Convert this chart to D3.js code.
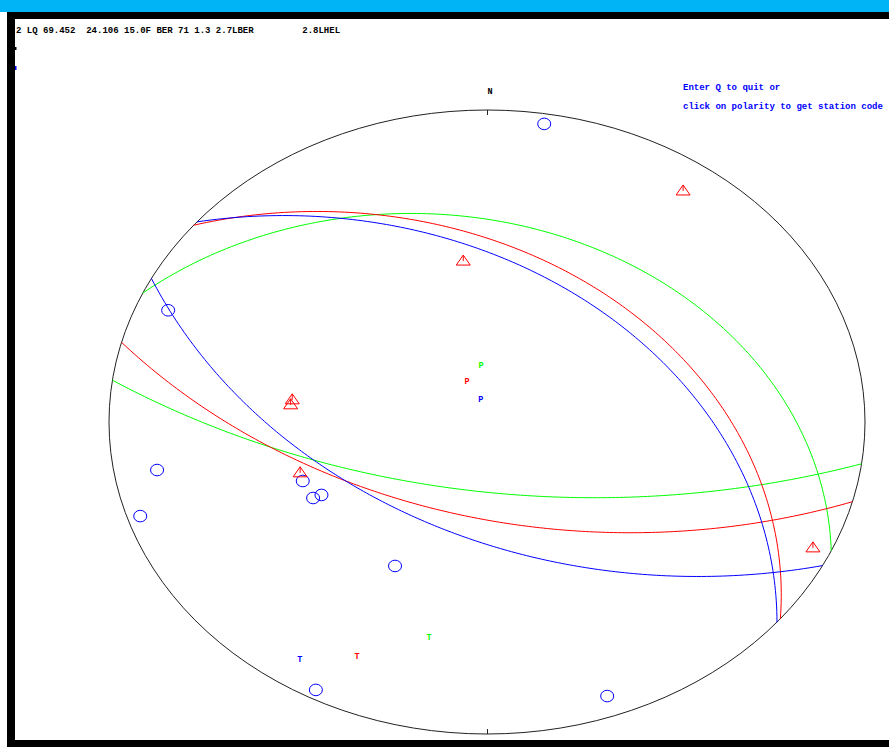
<!DOCTYPE html>
<html>
<head>
<meta charset="utf-8">
<script src="https://cdn.jsdelivr.net/npm/d3@7"></script>
<style>
  html, body { margin: 0; padding: 0; background: #fff; }
  svg { display: block; }
  .mono { font-family: "Liberation Mono", "DejaVu Sans Mono", monospace; font-weight: bold; }
</style>
</head>
<body>
<svg id="chart" width="889" height="747"></svg>
<script>
// Event header and prompt lines
const headerText = "2 LQ 69.452  24.106 15.0F BER 71 1.3 2.7LBER         2.8LHEL";
const promptLines = ["Enter Q to quit or", "click on polarity to get station code"];

// Three fault plane solutions (blue, red, green): two nodal planes each
const solutionColors = ["#0000ff", "#ff0000", "#00ff00"];
const planeAStrike = [117.4, 104.8, 97.7];
const planeADip    = [50.5, 56.0, 64.8];
const planeBStrike = [309.9, 309.1, 294.4];
const planeBDip    = [40.0, 35.5, 26.0];

// Pressure and tension axes (trend, plunge in degrees)
const pTrend  = [347.6, 338.0, 355.0];
const pPlunge = [81.4, 74.0, 69.3];
const tTrend  = [213.1, 204.6, 192.5];
const tPlunge = [5.6, 10.9, 19.5];

// Compressional first motions: station azimuth and angle of incidence
const compAzimuth   = [9.0, 293.0, 260.0, 251.8, 248.8, 242.1, 241.9, 207.8, 207.8, 160.1];
const compIncidence = [88.1, 85.0, 83.1, 88.0, 55.2, 55.0, 52.8, 55.1, 88.3, 86.1];

// Dilatational first motions
const dilAzimuth   = [34.9, 353.1, 278.2, 276.4, 252.1, 114.9];
const dilIncidence = [84.4, 55.2, 55.0, 55.2, 54.9, 87.1];

const svg = d3.select("#chart");
const W = 889, H = 747;
const rad = Math.PI / 180;

// Window frame
svg.append("rect").attr("x", 0).attr("y", 0).attr("width", W).attr("height", H).attr("fill", "#fff");
svg.append("rect").attr("x", 0).attr("y", 0).attr("width", W).attr("height", 12).attr("fill", "#00b4f5");
svg.append("rect").attr("x", 7).attr("y", 12).attr("width", W - 7).attr("height", 7).attr("fill", "#000");
svg.append("rect").attr("x", 7).attr("y", 12).attr("width", 8).attr("height", H - 12).attr("fill", "#000");
svg.append("rect").attr("x", 7).attr("y", 740).attr("width", W - 7).attr("height", 7).attr("fill", "#000");

// Stereonet scales (unit circle stretched to the plot window)
const xS = d3.scaleLinear().domain([-1, 1]).range([109, 865]);
const yS = d3.scaleLinear().domain([-1, 1]).range([734, 110]);

// Lower hemisphere stereographic projection of a line (trend, plunge)
function project(trend, plunge) {
  const r = Math.tan((90 - plunge) / 2 * rad);
  return [xS(r * Math.sin(trend * rad)), yS(r * Math.cos(trend * rad))];
}

// Points along the great circle of a plane (right-hand rule strike, dip)
function greatCircle(strike, dip) {
  const s = strike * rad, dd = (strike + 90) * rad, d = dip * rad;
  const sv = [Math.sin(s), Math.cos(s), 0];
  const dv = [Math.cos(d) * Math.sin(dd), Math.cos(d) * Math.cos(dd), Math.sin(d)];
  return d3.range(0, 180.5, 1).map(t => {
    const c = Math.cos(t * rad), n = Math.sin(t * rad);
    const e = c * sv[0] + n * dv[0], no = c * sv[1] + n * dv[1], dn = Math.max(0, c * sv[2] + n * dv[2]);
    const trend = Math.atan2(e, no) / rad;
    const plunge = Math.asin(Math.min(1, dn)) / rad;
    return project(trend, plunge);
  });
}

// Primitive circle with north and south ticks
const cx = xS(0), cy = yS(0);
svg.append("ellipse")
  .attr("cx", cx).attr("cy", cy)
  .attr("rx", xS(1) - cx).attr("ry", cy - yS(1))
  .attr("fill", "none").attr("stroke", "#222").attr("stroke-width", 1);
svg.append("line").attr("x1", cx + 0.5).attr("x2", cx + 0.5).attr("y1", yS(1)).attr("y2", yS(1) + 5)
  .attr("stroke", "#222");
svg.append("line").attr("x1", cx + 0.5).attr("x2", cx + 0.5).attr("y1", yS(-1) - 5).attr("y2", yS(-1))
  .attr("stroke", "#222");
svg.append("text").attr("class", "mono").attr("x", cx + 3).attr("y", 94)
  .attr("text-anchor", "middle").attr("font-size", 8.5).attr("fill", "#000").text("N");

// Nodal planes
const line = d3.line().curve(d3.curveLinear);
const gPlanes = svg.append("g").attr("fill", "none").attr("stroke-width", 1);
for (let k = solutionColors.length - 1; k >= 0; k--) {
  gPlanes.append("path").attr("d", line(greatCircle(planeAStrike[k], planeADip[k]))).attr("stroke", solutionColors[k]);
  gPlanes.append("path").attr("d", line(greatCircle(planeBStrike[k], planeBDip[k]))).attr("stroke", solutionColors[k]);
}

// Compressions: open circles
const gComp = svg.append("g").attr("fill", "none").attr("stroke", "#0000ff").attr("stroke-width", 1);
compAzimuth.forEach((az, i) => {
  const [x, y] = project(az, 90 - compIncidence[i]);
  gComp.append("ellipse").attr("cx", x).attr("cy", y).attr("rx", 6.5).attr("ry", 5.8);
});

// Dilatations: open triangles
const gDil = svg.append("g").attr("fill", "none").attr("stroke", "#ff0000").attr("stroke-width", 1);
dilAzimuth.forEach((az, i) => {
  const [x, y] = project(az, 90 - dilIncidence[i]);
  gDil.append("path").attr("d", `M${x - 7},${y + 5}L${x},${y - 5}L${x + 7},${y + 5}Z`);
  gDil.append("line").attr("x1", x).attr("x2", x).attr("y1", y - 5).attr("y2", y + 1);
});

// P and T axis labels
const gAxes = svg.append("g").attr("class", "mono").attr("font-size", 8.5).attr("text-anchor", "middle");
solutionColors.forEach((col, k) => {
  const [px, py] = project(pTrend[k], pPlunge[k]);
  gAxes.append("text").attr("x", px).attr("y", py + 3).attr("fill", col).text("P");
  const [tx, ty] = project(tTrend[k], tPlunge[k]);
  gAxes.append("text").attr("x", tx).attr("y", ty + 3).attr("fill", col).text("T");
});

// Header and prompt text
svg.append("text").attr("class", "mono").attr("x", 16).attr("y", 33)
  .attr("font-size", 9).attr("fill", "#000").attr("xml:space", "preserve")
  .style("white-space", "pre").text(headerText);
promptLines.forEach((s, i) => {
  svg.append("text").attr("class", "mono").attr("x", 683).attr("y", 90 + i * 18.5)
    .attr("font-size", 9).attr("fill", "#0000ff").text(s);
});
// Input cursor remnants at left margin
svg.append("rect").attr("x", 15).attr("y", 47).attr("width", 1.5).attr("height", 3).attr("fill", "#000");
svg.append("rect").attr("x", 15).attr("y", 66).attr("width", 1.5).attr("height", 4).attr("fill", "#0000ff");
</script>
</body>
</html>
